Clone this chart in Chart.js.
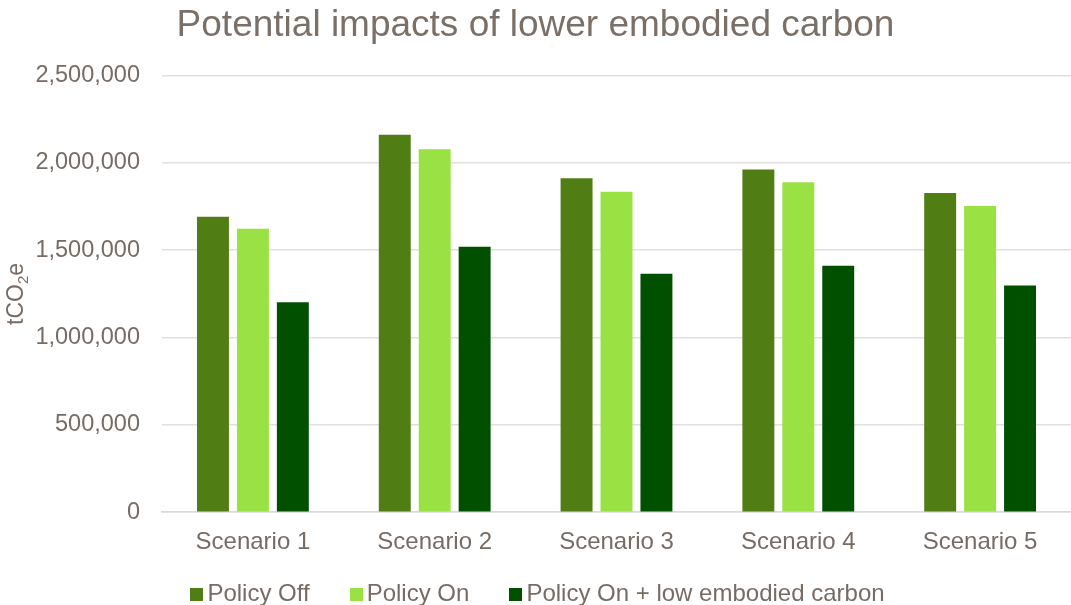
<!DOCTYPE html>
<html>
<head>
<meta charset="utf-8">
<script src="https://cdn.jsdelivr.net/npm/chart.js@4/dist/chart.umd.min.js"></script>
<style>
  html, body { margin: 0; padding: 0; background: #fff; }
  #wrap { position: relative; width: 1071px; height: 605px; }
  canvas { display: block; }
  #legend {
    position: absolute; left: 2px; top: 578px; width: 1071px; height: 30px;
    display: flex; justify-content: center; align-items: center;
    font: 24px 'Liberation Sans', Arial, sans-serif; color: #776c64;
  }
  #legend .item { display: flex; align-items: center; margin: 0 20px; }
  #legend .box { width: 13px; height: 13px; margin-right: 4px; margin-top: 3px; }
</style>
</head>
<body>
<div id="wrap">
  <canvas id="chart" width="1071" height="605"></canvas>
  <div id="legend"></div>
</div>
<script>
const scenarios = ["Scenario 1", "Scenario 2", "Scenario 3", "Scenario 4", "Scenario 5"];
const policyOff = [1691000, 2161000, 1911000, 1962000, 1827000];
const policyOn = [1622000, 2077000, 1834000, 1888000, 1752000];
const policyOnLowCarbon = [1201000, 1519000, 1365000, 1411000, 1298000];

const textGrey = "#776c64";
const fontFamily = "'Liberation Sans', Arial, sans-serif";

// rotated y-axis title with a subscript 2
const axisTitle = {
    id: "axisTitle",
    afterDraw(chart) {
        const ctx = chart.ctx;
        ctx.save();
        ctx.translate(17, 294);
        ctx.rotate(-Math.PI / 2);
        ctx.fillStyle = textGrey;
        ctx.textBaseline = "middle";
        ctx.textAlign = "left";
        const big = "23px " + fontFamily, small = "15px " + fontFamily;
        ctx.font = big;
        const wa = ctx.measureText("tCO").width;
        const wc = ctx.measureText("e").width;
        ctx.font = small;
        const wb = ctx.measureText("2").width;
        let x = -(wa + wb + wc) / 2;
        ctx.font = big;
        ctx.fillText("tCO", x, 0);
        x += wa;
        ctx.font = small;
        ctx.fillText("2", x, 7);
        x += wb;
        ctx.font = big;
        ctx.fillText("e", x, 0);
        ctx.restore();
    }
};

const chart = new Chart(document.getElementById("chart"), {
    type: "bar",
    data: {
        labels: scenarios,
        datasets: [
            { label: "Policy Off", data: policyOff, backgroundColor: "#507e14" },
            { label: "Policy On", data: policyOn, backgroundColor: "#9ae244" },
            { label: "Policy On + low embodied carbon", data: policyOnLowCarbon, backgroundColor: "#005000" }
        ]
    },
    options: {
        responsive: false,
        animation: false,
        devicePixelRatio: 1,
        layout: { padding: { left: 0, right: 0, top: 4, bottom: 40 } },
        datasets: {
            bar: { categoryPercentage: 0.659, barPercentage: 0.8 }
        },
        plugins: {
            title: {
                display: true,
                text: "Potential impacts of lower embodied carbon",
                color: "#7b7068",
                font: { family: fontFamily, size: 37, weight: "normal" },
                padding: { top: 0, bottom: 27 }
            },
            legend: { display: false },
            tooltip: { enabled: false }
        },
        scales: {
            x: {
                grid: { display: false },
                border: { color: "#dcd8d4", width: 1.5 },
                ticks: {
                    color: textGrey,
                    font: { family: fontFamily, size: 24 },
                    padding: 8,
                    maxRotation: 0
                }
            },
            y: {
                min: 0,
                max: 2500000,
                ticks: {
                    stepSize: 500000,
                    color: textGrey,
                    font: { family: fontFamily, size: 23.5 },
                    padding: 22,
                    callback: v => v.toLocaleString("en-US")
                },
                grid: { color: "#e2dfdc", lineWidth: 1.5, drawTicks: false },
                border: { display: false },
                afterFit(scale) { scale.width = 162; }
            }
        }
    },
    plugins: [axisTitle]
});

// legend row built from the datasets
const legendEl = document.getElementById("legend");
chart.data.datasets.forEach(ds => {
    const item = document.createElement("div");
    item.className = "item";
    item.innerHTML = `<span class="box" style="background:${ds.backgroundColor}"></span><span>${ds.label}</span>`;
    legendEl.appendChild(item);
});
</script>
</body>
</html>
